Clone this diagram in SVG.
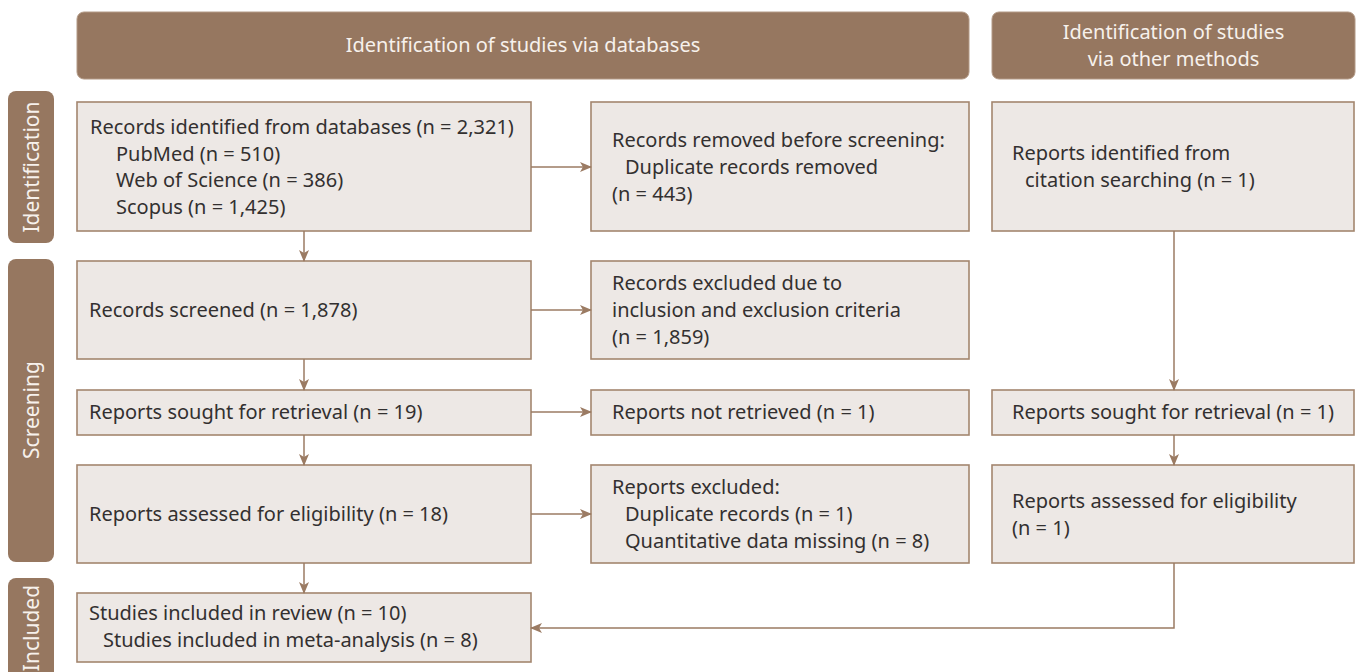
<svg xmlns="http://www.w3.org/2000/svg" width="1357" height="672" viewBox="0 0 1357 672">
  <defs>
    <style>
      .hdr { fill: #967760; stroke: #b39a86; stroke-width: 1; }
      .side { fill: #967760; }
      .box { fill: #ede8e5; stroke: #a3866f; stroke-width: 1.6; }
      .t { font-family: "Noto Sans", "Open Sans", sans-serif; font-size: 20px; fill: #333030; }
      .ht { font-family: "Noto Sans", "Open Sans", sans-serif; font-size: 20px; fill: #f7f1ec; text-anchor: middle; }
      .st { font-family: "Noto Sans", "Open Sans", sans-serif; font-size: 21px; fill: #f7f1ec; text-anchor: middle; dominant-baseline: central; }
      .ln { fill: none; stroke: #9b7b63; stroke-width: 1.5; }
    </style>
    <marker id="arrow" markerWidth="12" markerHeight="10" refX="11" refY="5" orient="auto" markerUnits="userSpaceOnUse">
      <path d="M0,0 L12,5 L0,10 L3,5 Z" fill="#9b7b63"/>
    </marker>
  </defs>
  <rect width="1357" height="672" fill="#ffffff"/>

  <!-- column headers -->
  <g id="header-databases">
    <rect class="hdr" x="77" y="12" width="892" height="67" rx="7"/>
    <text class="ht" x="523" y="52">Identification of studies via databases</text>
  </g>
  <g id="header-other">
    <rect class="hdr" x="992" y="12" width="363" height="67" rx="7"/>
    <text class="ht" x="1173.5" y="39">Identification of studies</text>
    <text class="ht" x="1173.5" y="66">via other methods</text>
  </g>

  <!-- phase labels -->
  <g id="phase-identification">
    <rect class="side" x="8" y="91" width="46" height="152" rx="8"/>
    <text class="st" transform="translate(31,167) rotate(-90)">Identification</text>
  </g>
  <g id="phase-screening">
    <rect class="side" x="8" y="259" width="46" height="303" rx="8"/>
    <text class="st" transform="translate(31,410) rotate(-90)">Screening</text>
  </g>
  <g id="phase-included">
    <rect class="side" x="8" y="578" width="46" height="110" rx="8"/>
    <text class="st" transform="translate(31,628) rotate(-90)">Included</text>
  </g>

  <!-- nodes -->
  <g id="records-identified">
    <rect class="box" x="77" y="102" width="454" height="129"/>
    <text class="t" x="90" y="134">Records identified from databases (n = 2,321)</text>
    <text class="t" x="116" y="161">PubMed (n = 510)</text>
    <text class="t" x="116" y="187">Web of Science (n = 386)</text>
    <text class="t" x="116" y="214">Scopus (n = 1,425)</text>
  </g>
  <g id="records-removed">
    <rect class="box" x="591" y="102" width="378" height="129"/>
    <text class="t" x="612" y="147">Records removed before screening:</text>
    <text class="t" x="625" y="174">Duplicate records removed</text>
    <text class="t" x="612" y="201">(n = 443)</text>
  </g>
  <g id="citation-reports">
    <rect class="box" x="992" y="102" width="362" height="129"/>
    <text class="t" x="1012" y="160">Reports identified from</text>
    <text class="t" x="1025" y="187">citation searching (n = 1)</text>
  </g>
  <g id="records-screened">
    <rect class="box" x="77" y="261" width="454" height="98"/>
    <text class="t" x="89" y="317">Records screened (n = 1,878)</text>
  </g>
  <g id="records-excluded">
    <rect class="box" x="591" y="261" width="378" height="98"/>
    <text class="t" x="612" y="290">Records excluded due to</text>
    <text class="t" x="612" y="317">inclusion and exclusion criteria</text>
    <text class="t" x="612" y="344">(n = 1,859)</text>
  </g>
  <g id="sought-databases">
    <rect class="box" x="77" y="390" width="454" height="45"/>
    <text class="t" x="89" y="419">Reports sought for retrieval (n = 19)</text>
  </g>
  <g id="not-retrieved">
    <rect class="box" x="591" y="390" width="378" height="45"/>
    <text class="t" x="612" y="419">Reports not retrieved (n = 1)</text>
  </g>
  <g id="sought-other">
    <rect class="box" x="992" y="390" width="362" height="45"/>
    <text class="t" x="1012" y="419">Reports sought for retrieval (n = 1)</text>
  </g>
  <g id="assessed-databases">
    <rect class="box" x="77" y="465" width="454" height="98"/>
    <text class="t" x="89" y="521">Reports assessed for eligibility (n = 18)</text>
  </g>
  <g id="reports-excluded">
    <rect class="box" x="591" y="465" width="378" height="98"/>
    <text class="t" x="612" y="494">Reports excluded:</text>
    <text class="t" x="625" y="521">Duplicate records (n = 1)</text>
    <text class="t" x="625" y="548">Quantitative data missing (n = 8)</text>
  </g>
  <g id="assessed-other">
    <rect class="box" x="992" y="465" width="362" height="98"/>
    <text class="t" x="1012" y="508">Reports assessed for eligibility</text>
    <text class="t" x="1012" y="535">(n = 1)</text>
  </g>
  <g id="studies-included">
    <rect class="box" x="77" y="593" width="454" height="69"/>
    <text class="t" x="89" y="620">Studies included in review (n = 10)</text>
    <text class="t" x="103" y="647">Studies included in meta-analysis (n = 8)</text>
  </g>

  <!-- connectors -->
  <g id="connectors">
    <line class="ln" x1="531" y1="167" x2="591" y2="167" marker-end="url(#arrow)"/>
    <line class="ln" x1="304" y1="231" x2="304" y2="261" marker-end="url(#arrow)"/>
    <line class="ln" x1="531" y1="310" x2="591" y2="310" marker-end="url(#arrow)"/>
    <line class="ln" x1="304" y1="359" x2="304" y2="390" marker-end="url(#arrow)"/>
    <line class="ln" x1="531" y1="412" x2="591" y2="412" marker-end="url(#arrow)"/>
    <line class="ln" x1="304" y1="435" x2="304" y2="465" marker-end="url(#arrow)"/>
    <line class="ln" x1="531" y1="514" x2="591" y2="514" marker-end="url(#arrow)"/>
    <line class="ln" x1="304" y1="563" x2="304" y2="593" marker-end="url(#arrow)"/>
    <line class="ln" x1="1174" y1="231" x2="1174" y2="390" marker-end="url(#arrow)"/>
    <line class="ln" x1="1174" y1="435" x2="1174" y2="465" marker-end="url(#arrow)"/>
    <polyline class="ln" points="1174,563 1174,628 531,628" marker-end="url(#arrow)"/>
  </g>
</svg>
